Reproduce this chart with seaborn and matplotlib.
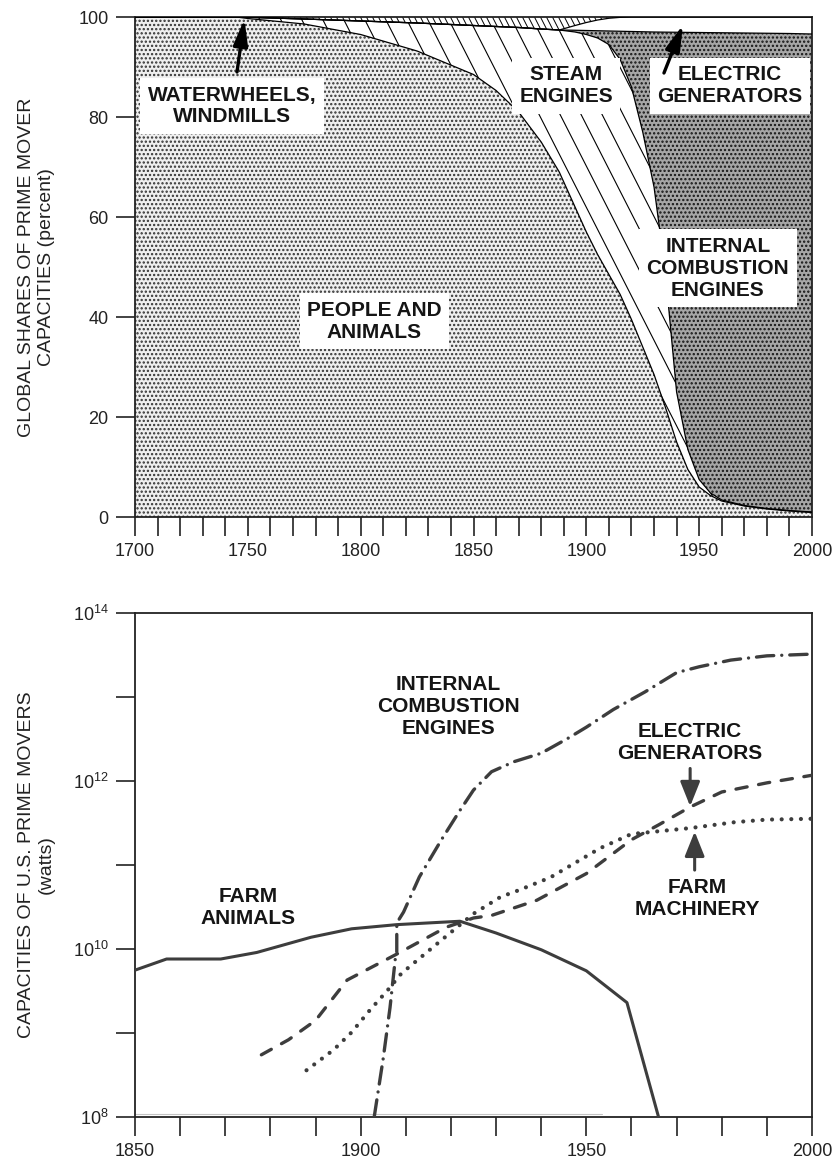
import numpy as np
import pandas as pd
import matplotlib
matplotlib.use("Agg")
import matplotlib.pyplot as plt
from matplotlib.collections import LineCollection
from matplotlib.ticker import NullFormatter
import seaborn as sns

# ---- top panel: global shares of prime mover capacities (percent) ----
share_years = [1700, 1725, 1745, 1750, 1775, 1800, 1825, 1850, 1860, 1870, 1880, 1888,
               1895, 1900, 1905, 1910, 1915, 1920, 1925, 1930, 1935, 1940, 1945, 1950,
               1955, 1960, 1970, 1980, 1990, 2000]
people = [100, 100, 100, 99.7, 98.6, 96.5, 93.2, 88.5, 85.3, 81, 75, 69,
          62, 57, 52.5, 48.5, 44.5, 39.5, 34, 28.5, 22, 15, 9.5, 6,
          4.3, 3.2, 2.2, 1.6, 1.2, 0.9]
steam = [0, 0, 0, 0.25, 1.0, 2.7, 5.6, 9.8, 12.8, 16.9, 22.6, 28.4,
         35.0, 39.5, 43.3, 46.0, 47.0, 46.5, 43.0, 37.5, 27.0, 10.0, 4.0, 1.5,
         0.5, 0.2, 0.1, 0.1, 0.1, 0.1]
ice = [0, 0, 0, 0, 0, 0, 0, 0, 0, 0, 0, 0,
       0.35, 0.8, 1.45, 2.7, 5.65, 11.1, 20.05, 31.0, 47.97, 71.95, 83.42, 89.4,
       92.07, 93.45, 94.5, 95.05, 95.4, 95.6]
electric = [0, 0, 0, 0, 0, 0, 0, 0, 0, 0, 0, 0,
            0.95, 1.6, 2.15, 2.55, 2.78, 2.9, 2.95, 3.0, 3.03, 3.05, 3.08, 3.1,
            3.13, 3.15, 3.2, 3.25, 3.3, 3.4]
waterwheels = [0, 0, 0, 0.05, 0.4, 0.8, 1.2, 1.7, 1.9, 2.1, 2.4, 2.6,
               1.7, 1.1, 0.6, 0.25, 0.07, 0, 0, 0, 0, 0, 0, 0,
               0, 0, 0, 0, 0, 0]

# ---- bottom panel: capacities of U.S. prime movers (watts) ----
animal_years = [1850, 1857, 1869, 1877, 1889, 1898, 1908, 1922, 1930, 1940, 1950, 1959, 1966]
animal_watts = [5.6e9, 7.6e9, 7.6e9, 9.1e9, 1.38e10, 1.74e10, 1.95e10, 2.14e10, 1.55e10,
                9.8e9, 5.5e9, 2.3e9, 1.0e8]
ice_years = [1903, 1905, 1906.5, 1907.7, 1908, 1908, 1909.5, 1913, 1918, 1922, 1925, 1929,
             1934, 1940, 1946, 1950, 1956, 1963, 1970, 1975, 1982, 1990, 2000]
ice_watts = [1.0e8, 5.0e8, 2.0e9, 7.9e9, 9.1e9, 2.04e10, 2.75e10, 7.2e10, 2.04e11, 4.47e11,
             7.8e11, 1.29e12, 1.70e12, 2.14e12, 3.24e12, 4.37e12, 7.1e12, 1.15e13, 1.95e13,
             2.29e13, 2.75e13, 3.09e13, 3.24e13]
elec_years = [1878, 1884, 1890, 1897, 1908, 1919, 1925, 1929, 1939, 1950, 1960, 1966,
              1973, 1980, 1990, 2000]
elec_watts = [5.5e8, 8.3e8, 1.41e9, 4.27e9, 8.7e9, 1.82e10, 2.34e10, 2.51e10, 3.8e10,
              7.9e10, 2.0e11, 3.0e11, 4.9e11, 7.4e11, 9.5e11, 1.17e12]
mach_years = [1888, 1894, 1898, 1902, 1906, 1909, 1916, 1920, 1925, 1931, 1935, 1942,
              1953, 1960, 1973, 1983, 1990, 2000]
mach_watts = [3.6e8, 6.3e8, 1.02e9, 1.86e9, 3.24e9, 5.1e9, 1.05e10, 1.58e10, 2.63e10,
              4.17e10, 5.0e10, 7.1e10, 1.58e11, 2.34e11, 2.75e11, 3.24e11, 3.47e11, 3.55e11]

sns.set_theme(style="ticks")
plt.rcParams["font.family"] = ["Liberation Sans", "DejaVu Sans"]
plt.rcParams["mathtext.fontset"] = "custom"
plt.rcParams["mathtext.rm"] = "Liberation Sans"
plt.rcParams["hatch.linewidth"] = 1.1

INK = "#222222"
LINE = "#3d3d3d"

W, H = 835, 1160
fig = plt.figure(figsize=(W / 100, H / 100), dpi=100)
ax1 = fig.add_axes([135 / W, 1 - 517 / H, 677 / W, 500 / H])
ax2 = fig.add_axes([135 / W, 1 - 1117 / H, 677 / W, 504 / H])


def line_hatch(ax, poly, spacing, lw):
    # steep "\" hatch lines clipped to one stacked layer
    run = 0.376
    starts = np.arange(-run, 1 + spacing, spacing)
    segs = [[(s, 1), (s + run, 0)] for s in starts]
    lc = LineCollection(segs, colors="black", linewidths=lw,
                        transform=ax.transAxes, zorder=1.5)
    lc.set_clip_path(poly.get_paths()[0], ax.transData)
    ax.add_collection(lc, autolim=False)


# ---------------- top panel ----------------
polys = ax1.stackplot(share_years, people, steam, ice, electric, waterwheels,
                      colors=["#efefef", "white", "#a6a6a6", "white", "white"],
                      hatch=["....", "", "....", "", ""], linewidth=0)
polys[0].set_edgecolor("#333333")
polys[2].set_edgecolor("#151515")
for p in polys:
    p.set_linewidth(0)
line_hatch(ax1, polys[1], 21 / 677, 0.8)
line_hatch(ax1, polys[4], 6 / 677, 0.7)

bounds = np.cumsum([people, steam, ice, electric], axis=0)
for b in bounds:
    sns.lineplot(x=share_years, y=b, ax=ax1, color="black", lw=0.9,
                 estimator=None, sort=False, zorder=3)

ax1.set_xlim(1700, 2000)
ax1.set_ylim(0, 100)
ax1.set_xticks(range(1700, 2001, 50))
ax1.set_xticks(range(1700, 2001, 10), minor=True)
ax1.set_yticks(range(0, 101, 20))
ax1.set_ylabel("GLOBAL SHARES OF PRIME MOVER\nCAPACITIES (percent)", fontsize=14,
               color=INK, linespacing=1.25)
ax1.yaxis.set_label_coords(-0.118, 0.5)

box = dict(boxstyle="square,pad=0.35", facecolor="white", edgecolor="none")
lab = dict(ha="center", va="center", fontsize=15, fontweight="bold", color="#151515",
           zorder=6)
ax1.text(1743, 82.2, "WATERWHEELS,\nWINDMILLS", bbox=box, **lab)
ax1.text(1891, 86.2, "STEAM\nENGINES", bbox=box, **lab)
ax1.text(1963.5, 86.2, "ELECTRIC\nGENERATORS", bbox=box, **lab)
ax1.text(1958.3, 49.8, "INTERNAL\nCOMBUSTION\nENGINES", bbox=box, **lab)
ax1.text(1806, 39.2, "PEOPLE AND\nANIMALS", bbox=box, **lab)

arrow_top = dict(arrowstyle="-|>,head_length=0.8,head_width=0.22", color="black",
                 lw=2.4, mutation_scale=20, shrinkA=0, shrinkB=0)
ax1.annotate("", xy=(1748.5, 99.6), xytext=(1745.2, 89), arrowprops=arrow_top, zorder=7)
ax1.annotate("", xy=(1942.8, 98.4), xytext=(1934.4, 88.8), arrowprops=arrow_top, zorder=7)

# ---------------- bottom panel ----------------
ax2.set_yscale("log")
series = [
    (animal_years, animal_watts, "-", "butt", 2.2),
    (ice_years, ice_watts, (0, (5.2, 2.4, 0.01, 2.4)), "round", 2.4),
    (elec_years, elec_watts, (0, (3.4, 3.5)), "round", 2.4),
    (mach_years, mach_watts, (0, (0.01, 2.3)), "round", 3.0),
]
for yrs, watts, ls, cap, width in series:
    df = pd.DataFrame({"year": yrs, "watts": watts})
    sns.lineplot(data=df, x="year", y="watts", ax=ax2, color=LINE, linewidth=width,
                 linestyle=ls, dash_capstyle=cap, solid_capstyle="butt",
                 estimator=None, sort=False, zorder=3)

ax2.axhline(1.08e8, xmax=0.69, color="#c4c4c4", lw=0.8, zorder=2)

ax2.set_xlim(1850, 2000)
ax2.set_ylim(1e8, 1e14)
ax2.set_xticks(range(1850, 2001, 50))
ax2.set_xticks(range(1850, 2001, 10), minor=True)
ax2.set_yticks([1e8, 1e10, 1e12, 1e14],
               labels=[r"$\mathregular{10^{8}}$", r"$\mathregular{10^{10}}$",
                       r"$\mathregular{10^{12}}$", r"$\mathregular{10^{14}}$"])
ax2.set_yticks([1e9, 1e11, 1e13], minor=True)
ax2.yaxis.set_minor_formatter(NullFormatter())
ax2.set_ylabel("CAPACITIES OF U.S. PRIME MOVERS\n(watts)", fontsize=14, color=INK,
               linespacing=1.25)
ax2.yaxis.set_label_coords(-0.118, 0.5)

ax2.text(1875, 3.16e10, "FARM\nANIMALS", **lab)
ax2.text(1919.5, 7.8e12, "INTERNAL\nCOMBUSTION\nENGINES", **lab)
ax2.text(1973, 2.9e12, "ELECTRIC\nGENERATORS", **lab)
ax2.text(1974.5, 4.0e10, "FARM\nMACHINERY", **lab)

arrow_bot = dict(arrowstyle="-|>,head_length=0.75,head_width=0.3", color=LINE,
                 lw=2.2, mutation_scale=20, shrinkA=0, shrinkB=0)
ax2.annotate("", xy=(1973, 5.0e11), xytext=(1973, 1.41e12), arrowprops=arrow_bot, zorder=7)
ax2.annotate("", xy=(1974, 2.5e11), xytext=(1974, 8.7e10), arrowprops=arrow_bot, zorder=7)

for ax in (ax1, ax2):
    ax.set_xlabel("")
    for s in ax.spines.values():
        s.set_visible(True)
        s.set_linewidth(1.3)
        s.set_color(INK)
    ax.tick_params(axis="both", which="both", direction="out", length=14, width=1.2,
                   color=INK, labelsize=13, labelcolor=INK, pad=5)

fig.savefig("out.png", dpi=100)
